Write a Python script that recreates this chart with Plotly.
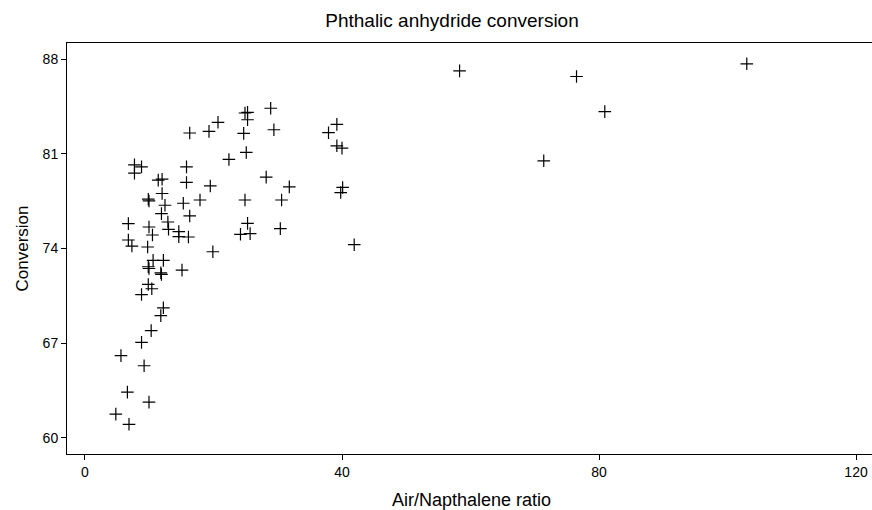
import plotly.graph_objects as go

ratio = [58.3, 76.5, 80.9, 71.4, 103.0, 41.9, 39.2, 37.9, 39.2, 40.0,
         40.1, 39.8, 28.9, 24.9, 25.3, 25.3, 20.7, 19.3, 24.7, 29.4,
         25.1, 22.4, 28.2, 31.8, 19.5, 17.9, 24.9, 30.6, 25.3, 24.2,
         25.7, 30.4, 19.9, 7.7, 8.8, 7.7, 15.8, 11.4, 12.0, 15.8,
         12.0, 9.85, 9.96, 12.45, 15.3, 11.9, 16.3, 12.9, 6.75, 9.96,
         13.0, 10.5, 14.6, 14.6, 16.1, 6.75, 7.3, 9.75, 10.6, 12.2,
         9.85, 9.96, 11.8, 11.9, 15.1, 9.85, 10.4, 8.8, 12.2, 11.8,
         10.3, 8.8, 5.6, 9.2, 6.6, 9.96, 4.8, 6.85, 16.3]
conversion = [87.15, 86.73, 84.13, 80.49, 87.67, 74.28, 83.19, 82.57, 81.60, 81.43,
              78.52, 78.14, 84.38, 84.03, 84.08, 83.53, 83.34, 82.67, 82.52, 82.79,
              81.11, 80.59, 79.28, 78.56, 78.63, 77.59, 77.59, 77.59, 75.86, 75.05,
              75.10, 75.47, 73.76, 80.19, 80.04, 79.58, 80.04, 79.06, 79.13, 78.89,
              78.07, 77.65, 77.52, 77.20, 77.35, 76.58, 76.41, 75.96, 75.84, 75.59,
              75.42, 75.00, 75.25, 74.88, 74.85, 74.63, 74.18, 74.11, 73.12, 73.12,
              72.65, 72.52, 72.20, 72.08, 72.40, 71.34, 71.02, 70.59, 69.61, 69.03,
              67.92, 67.05, 66.07, 65.32, 63.37, 62.63, 61.74, 60.99, 82.55]

x_ticks = [0, 40, 80, 120]
y_ticks = [60, 67, 74, 81, 88]

fig = go.Figure()
fig.add_trace(go.Scatter(
    x=ratio, y=conversion, mode="markers",
    marker=dict(symbol="cross-thin", size=9, color="black",
                line=dict(color="black", width=1.2)),
    showlegend=False, hoverinfo="skip",
))

# Figure is a little wider than the 872px window so the plot area runs off
# the right edge (no right-hand frame edge), as in the reference.
W, H = 876, 510
L, R, T, B = 67, 0, 43, 56
pw, ph = W - L - R, H - T - B
font = "Liberation Sans, Arial, sans-serif"
fig.update_layout(
    width=W, height=H,
    margin=dict(l=L, r=R, t=T, b=B, autoexpand=False),
    paper_bgcolor="white", plot_bgcolor="white",
    font=dict(family=font, color="black", size=14),
    title=dict(text="Phthalic anhydride conversion", x=452 / W, xanchor="center",
               y=1 - 20 / H, yanchor="middle", font=dict(size=19, family=font)),
    annotations=[
        dict(text="Air/Napthalene ratio", xref="paper", yref="paper",
             x=(471 - L) / pw, y=-(500 - (T + ph)) / ph, xanchor="center",
             yanchor="middle", showarrow=False, font=dict(size=18)),
        dict(text="Conversion", xref="paper", yref="paper",
             x=(22 - L) / pw, y=0.5, xanchor="center", yanchor="middle",
             textangle=-90, showarrow=False, font=dict(size=17)),
    ],
)
fig.update_xaxes(
    range=[-2.8, 123.11], tickvals=x_ticks, ticktext=[str(v) for v in x_ticks],
    showgrid=False, zeroline=False, showline=True, linecolor="black", linewidth=1,
    mirror=True, ticks="outside", ticklen=5, tickcolor="black",
    tickfont=dict(size=14), automargin=False,
)
fig.update_yaxes(
    range=[58.79, 89.21], tickvals=y_ticks, ticktext=[str(v) for v in y_ticks],
    showgrid=False, zeroline=False, showline=True, linecolor="black", linewidth=1,
    ticks="outside", ticklen=5, tickcolor="black",
    tickfont=dict(size=14), automargin=False,
)

fig.write_html(
    "out.html",
    config={"displayModeBar": False},
    post_script="document.body.style.margin='0';document.body.style.overflow='hidden';",
)
